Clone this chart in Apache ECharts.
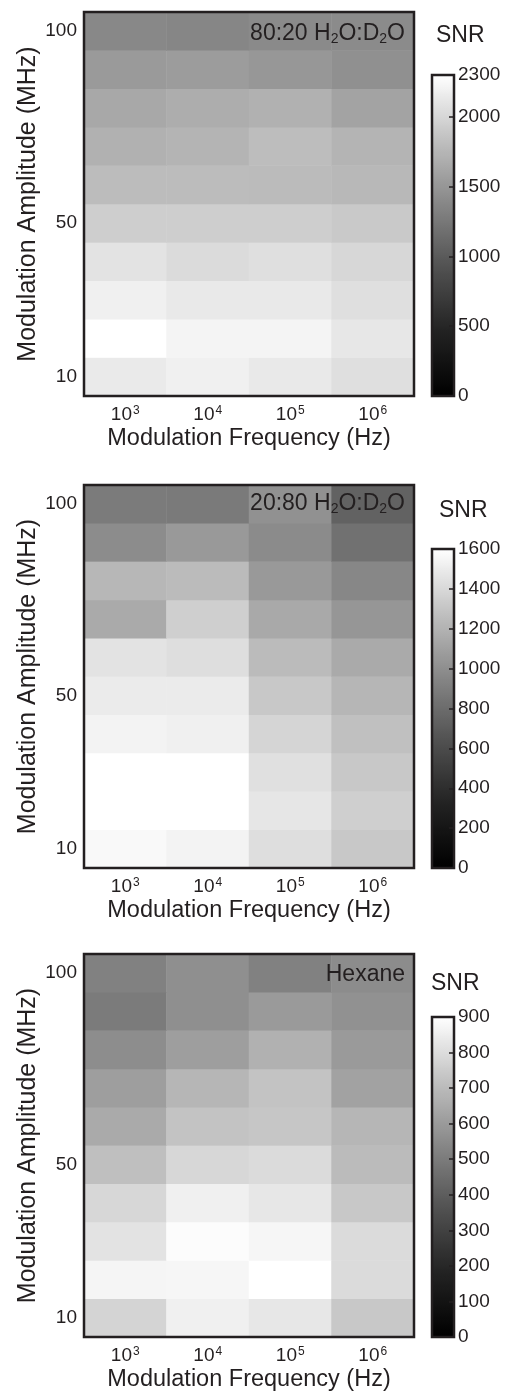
<!DOCTYPE html>
<html>
<head>
<meta charset="utf-8">
<title>SNR heatmaps</title>
<script src="https://cdn.jsdelivr.net/npm/echarts@6/dist/echarts.min.js"></script>
<style>html,body{margin:0;padding:0;background:#fff}</style>
</head>
<body>
<div id="container" style="width:511px;height:1395px"></div>
<script>
// rows: modulation amplitude (MHz), bottom to top
var amplitudes = ['10', '20', '30', '40', '50', '60', '70', '80', '90', '100'];
var ampShown = ['10', '50', '100'];
// columns: modulation frequency 10^n Hz
var freqExp = ['3', '4', '5', '6'];

// SNR, one row per amplitude (same order as amplitudes), columns 10^3..10^6
var snrWater8020 = [
    [2145, 2185, 2140, 2060],
    [2300, 2215, 2215, 2120],
    [2185, 2140, 2140, 2060],
    [2090, 2035, 2065, 2000],
    [1940, 1940, 1940, 1900],
    [1800, 1800, 1795, 1770],
    [1710, 1740, 1810, 1740],
    [1640, 1685, 1710, 1600],
    [1530, 1545, 1510, 1455],
    [1390, 1370, 1400, 1410]
];
var snrWater2080 = [
    [1570, 1540, 1430, 1315],
    [1600, 1600, 1470, 1350],
    [1600, 1600, 1440, 1315],
    [1540, 1520, 1385, 1275],
    [1495, 1495, 1315, 1220],
    [1455, 1430, 1245, 1155],
    [1155, 1350, 1145, 1040],
    [1225, 1245, 1060, 960],
    [990, 1060, 980, 830],
    [890, 885, 1015, 740]
];
var snrHexane = [
    [775, 855, 830, 740],
    [870, 875, 900, 795],
    [820, 890, 875, 795],
    [785, 855, 830, 740],
    [715, 785, 795, 700],
    [650, 725, 735, 685],
    [610, 685, 725, 625],
    [560, 610, 670, 600],
    [500, 565, 600, 570],
    [520, 565, 520, 555]
];

// colour bar ranges
var snrMax = [2300, 1600, 900];
var snrStep = [500, 200, 100];

var sampleLabels = [
    '{t|80:20 H}{s|2}{t|O:D}{s|2}{t|O}',
    '{t|20:80 H}{s|2}{t|O:D}{s|2}{t|O}',
    '{t|Hexane}'
];

var ink = '#231f20';
var font = '"Liberation Sans", Arial, sans-serif';
var grays = ['#000000', '#222222', '#515151', '#878787', '#c1c1c1', '#ffffff'];

// panel placement
var panels = [
    {top: 12, height: 384, cbTop: 75, cbHeight: 321, labelTop: 22, snrLeft: 436, snrTop: 24},
    {top: 485, height: 383, cbTop: 549, cbHeight: 319, labelTop: 492, snrLeft: 439, snrTop: 499},
    {top: 954, height: 383, cbTop: 1017, cbHeight: 320, labelTop: 963, snrLeft: 431, snrTop: 972}
];
var allData = [snrWater8020, snrWater2080, snrHexane];

var dom = document.getElementById('container');
var myChart = echarts.init(dom, null, {renderer: 'canvas'});

var grid = [], xAxis = [], yAxis = [], series = [], visualMap = [], title = [];

panels.forEach(function (p, i) {
    var rows = allData[i];
    var data = [];
    for (var r = 0; r < rows.length; r++) {
        for (var c = 0; c < rows[r].length; c++) {
            data.push([c, r, rows[r][c]]);
        }
    }

    grid.push({
        left: 84, top: p.top, width: 330, height: p.height,
        outerBoundsMode: 'none', containLabel: false,
        show: true, borderColor: ink, borderWidth: 2.5,
        backgroundColor: 'transparent', z: 10
    });
    xAxis.push({
        type: 'category', gridIndex: i, data: freqExp,
        axisLine: {show: false}, axisTick: {show: false}, splitLine: {show: false},
        axisLabel: {
            margin: 9,
            formatter: function (v) { return '{n|10}{e|' + v + '}'; },
            rich: {
                n: {fontSize: 19, color: ink, fontFamily: font},
                e: {fontSize: 12, color: ink, fontFamily: font, verticalAlign: 'top', padding: [0, 0, 0, 1]}
            }
        },
        name: 'Modulation Frequency (Hz)', nameLocation: 'middle', nameGap: 31,
        nameMoveOverlap: false,
        nameTextStyle: {fontSize: 23.5, color: ink, fontFamily: font}
    });
    yAxis.push({
        type: 'category', gridIndex: i, data: amplitudes,
        axisLine: {show: false}, axisTick: {show: false}, splitLine: {show: false},
        axisLabel: {
            margin: 7, fontSize: 19, color: ink, fontFamily: font,
            interval: function (idx, v) { return ampShown.indexOf(v) >= 0; }
        },
        name: 'Modulation Amplitude (MHz)', nameLocation: 'middle', nameGap: 43,
        nameMoveOverlap: false,
        nameTextStyle: {fontSize: 25, color: ink, fontFamily: font}
    });
    series.push({
        type: 'heatmap', xAxisIndex: i, yAxisIndex: i, data: data,
        itemStyle: {borderWidth: 0}, emphasis: {disabled: true}
    });
    visualMap.push({
        type: 'continuous', seriesIndex: i, min: 0, max: snrMax[i],
        calculable: false, hoverLink: false, orient: 'vertical',
        left: 432, top: p.cbTop, itemWidth: 22, itemHeight: p.cbHeight,
        padding: 0, inRange: {color: grays}
    });
    title.push({
        text: sampleLabels[i], right: 106, top: p.labelTop, padding: 0,
        textStyle: {
            fontWeight: 'normal',
            rich: {
                t: {fontSize: 23, fontWeight: 'normal', color: ink, fontFamily: font},
                s: {fontSize: 14, fontWeight: 'normal', color: ink, fontFamily: font, verticalAlign: 'bottom', padding: [10, 0, 0, 0]}
            }
        }
    });
    title.push({
        text: 'SNR', left: p.snrLeft, top: p.snrTop, padding: 0,
        textStyle: {fontSize: 23, fontWeight: 'normal', color: ink, fontFamily: font}
    });
});

// colour bar frames, ticks and labels
panels.forEach(function (p, i) {
    var g = panels.length + i;
    grid.push({
        left: 432, top: p.cbTop, width: 22, height: p.cbHeight,
        outerBoundsMode: 'none', containLabel: false,
        show: true, borderColor: ink, borderWidth: 2.5,
        backgroundColor: 'transparent', z: 10
    });
    xAxis.push({type: 'category', gridIndex: g, show: false, data: ['']});
    yAxis.push({
        type: 'value', gridIndex: g, min: 0, max: snrMax[i], interval: snrStep[i],
        position: 'right', z: 11,
        axisLine: {show: false, onZero: false}, splitLine: {show: false},
        axisTick: {show: true, inside: true, length: 5, lineStyle: {color: ink, width: 1.5}},
        axisLabel: {
            margin: 4, fontSize: 19, color: ink, fontFamily: font,
            formatter: function (v) { return String(v); }
        }
    });
});

var option = {
    animation: false,
    title: title,
    grid: grid,
    xAxis: xAxis,
    yAxis: yAxis,
    visualMap: visualMap,
    series: series
};

myChart.setOption(option);
window.addEventListener('resize', myChart.resize);
</script>
</body>
</html>
